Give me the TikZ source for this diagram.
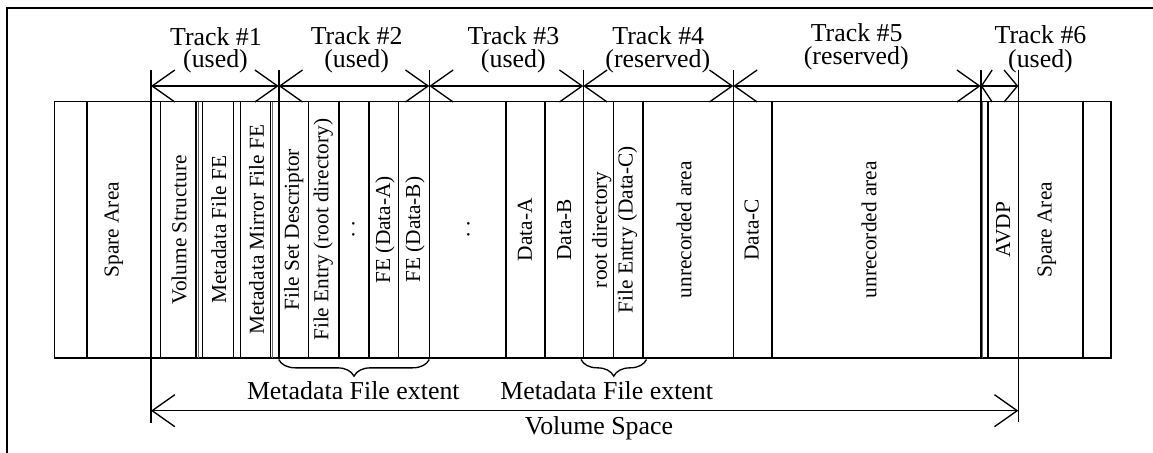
\documentclass[tikz,border=0pt]{standalone}
\usepackage{fontspec}
\setmainfont{Liberation Serif}
\usetikzlibrary{arrows.meta,decorations.pathreplacing}
\begin{document}
\begin{tikzpicture}[x=0.75pt,y=-0.75pt,line width=1.2pt,
  hlab/.style={font=\fontsize{19.4}{22}\selectfont,inner sep=0pt,anchor=base},
  vlab/.style={font=\fontsize{16}{18}\selectfont,inner sep=0pt,rotate=90},
  dimline/.style={line width=1pt,{Straight Barb[length=17pt,width=24pt]}-{Straight Barb[length=17pt,width=24pt]}},
  dimshort/.style={line width=1pt,{Straight Barb[length=8pt,width=24pt]}-{Straight Barb[length=10pt,width=24pt]}},
  bracestyle/.style={line width=1pt,decorate,decoration={brace,mirror,amplitude=12.5pt}},
  divider/.style={line width=1.2pt},
  thin/.style={line width=0.6pt,black!60}]
\useasboundingbox (0,0) rectangle (1153,453);
% frame
\draw[line width=1.3pt] (6.7,453) -- (6.7,8) -- (1153,8);
% band
\draw (54.3,101.7) rectangle (1111,357.7);
\foreach \x in {86.7,160.5,196,202.5,233.3,240.5,270.5,308.3,338.7,369,398.3,506,544.7,613.3,642.7,772,987.7,1082.7}
  \draw[divider] (\x,101.7) -- (\x,357.7);
\foreach \x in {198,272.7,982.7}
  \draw[thin] (\x,101.7) -- (\x,357.7);
% track boundary lines
\foreach \x in {278.7,429.3,583.3,733.3,980.7}
  \draw[divider] (\x,70) -- (\x,357.7);
\draw[divider] (151,70) -- (151,423);
\draw[divider] (1018.3,70) -- (1018.3,422);
% boundary coordinates
\coordinate (b0) at (151,86);
\coordinate (b1) at (278.7,86);
\coordinate (b2) at (429.3,86);
\coordinate (b3) at (583.3,86);
\coordinate (b4) at (733.3,86);
\coordinate (b5) at (980.7,86);
\coordinate (b6) at (1018.3,86);
\draw[dimline] (b0) -- (b1);
\draw[dimline] (b1) -- (b2);
\draw[dimline] (b2) -- (b3);
\draw[dimline] (b3) -- (b4);
\draw[dimline] (b4) -- (b5);
\draw[dimshort] (b5) -- (b6);
% track labels
\node[hlab] (t1) at (216,45.5) {Track \#1};
\node[hlab] (t1s) at (215.5,68) {(used)};
\node[hlab] (t2) at (356.7,45) {Track \#2};
\node[hlab] (t2s) at (356.7,68) {(used)};
\node[hlab] (t3) at (513.5,45) {Track \#3};
\node[hlab] (t3s) at (513.3,68) {(used)};
\node[hlab] (t4) at (658.3,45) {Track \#4};
\node[hlab] (t4s) at (657.8,68) {(reserved)};
\node[hlab] (t5) at (856.7,42) {Track \#5};
\node[hlab] (t5s) at (856.2,64.5) {(reserved)};
\node[hlab] (t6) at (1040.5,44) {Track \#6};
\node[hlab] (t6s) at (1040.5,68) {(used)};
% vertical labels
\node[vlab] (sa1) at (113.8,229.7) {Spare Area};
\node[vlab] (vs) at (179.2,229.7) {Volume Structure};
\node[vlab] (mf) at (218.7,229.7) {Metadata File FE};
\node[vlab] (mm) at (256.7,229.7) {Metadata Mirror File FE};
\node[vlab] (fsd) at (293.8,229.7) {File Set Descriptor};
\node[vlab] (fer) at (323.3,229.7) {File Entry (root directory)};
\node[vlab] (d1) at (353.3,229) {.\ .};
\node[vlab] (fea) at (385,229.7) {FE (Data-A)};
\node[vlab] (feb) at (415,229.7) {FE (Data-B)};
\node[vlab] (d2) at (468.3,229) {.\ .};
\node[vlab] (da) at (525,229.7) {Data-A};
\node[vlab] (db) at (564.3,229.7) {Data-B};
\node[vlab] (rd) at (601.7,229.7) {root directory};
\node[vlab] (fec) at (627.5,229.7) {File Entry (Data-C)};
\node[vlab] (ua1) at (684,229.7) {unrecorded area};
\node[vlab] (dc) at (751.7,229.7) {Data-C};
\node[vlab] (ua2) at (869,229.7) {unrecorded area};
\node[vlab] (avdp) at (1003.3,229.7) {AVDP};
\node[vlab] (sa2) at (1046.7,229.7) {Spare Area};
% braces
\coordinate (m1l) at (278.7,359.5);
\coordinate (m1r) at (429.3,359.5);
\coordinate (m2l) at (581,359.5);
\coordinate (m2r) at (646.5,359.5);
\draw[bracestyle] (m1l) -- (m1r);
\draw[bracestyle] (m2l) -- (m2r);
\node[hlab] (mfe1) at (353.3,399) {Metadata File extent};
\node[hlab] (mfe2) at (606.7,399) {Metadata File extent};
% volume space
\coordinate (vl) at (151,410.7);
\coordinate (vr) at (1018.3,410.7);
\draw[dimline] (vl) -- (vr);
\node[hlab] (vsp) at (599,434.5) {Volume Space};
\end{tikzpicture}
\end{document}
